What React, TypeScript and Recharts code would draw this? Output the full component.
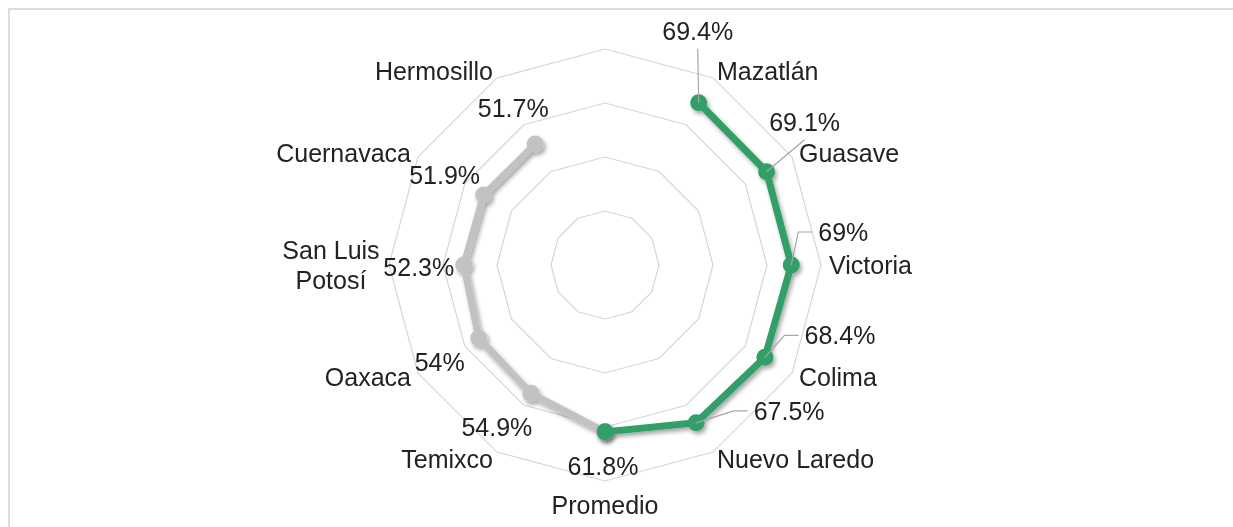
import React from 'react';
import { RadarChart, Radar, PolarGrid, PolarAngleAxis, PolarRadiusAxis } from 'recharts';

// ---------- data ----------
const categories = ['', 'Mazatlán', 'Guasave', 'Victoria', 'Colima', 'Nuevo Laredo', 'Promedio', 'Temixco', 'Oaxaca', 'San Luis Potosí', 'Cuernavaca', 'Hermosillo'];
const upperGroup: (number | null)[] = [null, 69.4, 69.1, 69.0, 68.4, 67.5, 61.8, null, null, null, null, null];
const lowerGroup: (number | null)[] = [null, null, null, null, null, null, 61.8, 54.9, 54.0, 52.3, 51.9, 51.7];
const radiusDomain: [number, number] = [0, 80];

const data = categories.map((name, i) => ({ name, upper: upperGroup[i], lower: lowerGroup[i] }));

// ---------- layout / style ----------
const FONT = '"Liberation Sans", Arial, Helvetica, sans-serif';
const FONT_SIZE = 25;
const TEXT = '#222222';
const GREEN = '#339e67';
const GRAY = '#c2c2c2';
const LEADER = '#a6a6a6';

// manual label placement (text centre relative to the data point), like the original chart
const LABEL_NUDGE: Record<string, [number, number]> = {
  'Mazatlán': [-1, -72],
  'Guasave': [38, -50],
  'Victoria': [52, -33],
  'Colima': [75, -22],
  'Nuevo Laredo': [93, -12],
  'Promedio': [-2, 34],
  'Temixco': [-34, 34],
  'Oaxaca': [-39, 24],
  'San Luis Potosí': [-45, 2],
  'Cuernavaca': [-39, -20],
  'Hermosillo': [-22, -36],
};

const CW: Record<string, number> = {
  '.': 0.278, '%': 0.889, ' ': 0.278, i: 0.222, l: 0.222, t: 0.278, r: 0.333, s: 0.5, f: 0.278, j: 0.222,
  m: 0.833, w: 0.722, M: 0.833, W: 0.944,
};
function textWidth(s: string, size = FONT_SIZE) {
  let w = 0;
  for (const ch of s) {
    if (CW[ch] !== undefined) w += CW[ch];
    else if (/[0-9]/.test(ch)) w += 0.556;
    else if (/[A-Z]/.test(ch)) w += 0.667;
    else w += 0.556;
  }
  return w * size;
}

const fmt = (v: number) => `${String(v)}%`;

function AngleTick(props: any) {
  const { x, y, payload, textAnchor } = props;
  const name: string = payload?.value ?? '';
  if (!name) return null;
  let lines = [name];
  if (name.length > 12) {
    const k = name.lastIndexOf(' ');
    lines = [name.slice(0, k), name.slice(k + 1)];
  }
  const lineH = 30;
  if (lines.length > 1) {
    const maxW = Math.max(...lines.map((l) => textWidth(l)));
    const cxText = textAnchor === 'end' ? x - maxW / 2 : textAnchor === 'start' ? x + maxW / 2 : x;
    return (
      <text fontFamily={FONT} fontSize={FONT_SIZE} fill={TEXT} textAnchor="middle">
        {lines.map((l, i) => (
          <tspan key={i} x={cxText} y={y + 9 + (i - (lines.length - 1) / 2) * lineH}>{l}</tspan>
        ))}
      </text>
    );
  }
  const baseY = textAnchor === 'middle' ? (y > 257 ? y + 25 : y - 7) : y + 9;
  return (
    <text x={x} y={baseY} fontFamily={FONT} fontSize={FONT_SIZE} fill={TEXT} textAnchor={textAnchor}>
      {name}
    </text>
  );
}

function makeShape(values: (number | null)[], color: string, fid: string, leaders: boolean, showLabel: (i: number) => boolean) {
  return (props: any) => {
    const raw: any[] = props.points || [];
    const pts = raw
      .map((p, i) => ({ ...p, i, v: values[i] }))
      .filter((p) => p.v !== null && p.v !== undefined && Number.isFinite(p.x) && Number.isFinite(p.y));
    const d = pts.map((p, k) => `${k ? 'L' : 'M'}${p.x},${p.y}`).join('');
    return (
      <g>
        <defs>
          <filter id={fid} x="-20%" y="-20%" width="140%" height="140%">
            <feDropShadow dx="2" dy="3" stdDeviation="2" floodColor="#000" floodOpacity="0.35" />
          </filter>
        </defs>
        <g filter={`url(#${fid})`}>
          <path d={d} fill="none" stroke={color} strokeWidth={7} strokeLinejoin="round" strokeLinecap="round" />
          {pts.map((p) => (
            <circle key={p.i} cx={p.x} cy={p.y} r={8.5} fill={color} />
          ))}
        </g>
        {pts.filter((p) => showLabel(p.i)).map((p) => {
          const name = p.payload?.name ?? p.name;
          const [dx, dy] = LABEL_NUDGE[name] || [0, -30];
          const lx = p.x + dx;
          const ly = p.y + dy;
          const label = fmt(p.v as number);
          const w = textWidth(label);
          const left = lx - w / 2;
          let leaderPath = '';
          if (leaders) {
            if (left - 10 > p.x + 15) {
              leaderPath = `M${left - 6},${ly}L${left - 20},${ly}L${p.x},${p.y}`;
            } else {
              leaderPath = `M${lx},${ly + 18}L${p.x},${p.y}`;
            }
          }
          return (
            <g key={`l${p.i}`}>
              {leaderPath && <path d={leaderPath} fill="none" stroke={LEADER} strokeWidth={1.2} />}
              <text x={lx} y={ly + 9} textAnchor="middle" fontFamily={FONT} fontSize={FONT_SIZE} fill={TEXT}>
                {label}
              </text>
            </g>
          );
        })}
      </g>
    );
  };
}

const lowerShape = makeShape(lowerGroup, GRAY, 'shadowLower', false, () => true);
const upperShape = makeShape(upperGroup, GREEN, 'shadowUpper', true, (i) => lowerGroup[i] === null);

export default function App() {
  return (
    <div style={{ position: 'relative', width: 1217, height: 511 }}>
      <div
        style={{
          position: 'fixed', left: 8, top: 8, right: -10, bottom: -10,
          borderTop: '2px solid #dcdcdc', borderLeft: '2px solid #dcdcdc',
        }}
      />
      <div style={{ position: 'absolute', left: 0, top: 0 }}>
        <RadarChart
          width={1217}
          height={511}
          cx={597}
          cy={257}
          outerRadius={216}
          data={data}
          startAngle={90}
          endAngle={-270}
        >
          <PolarGrid gridType="polygon" radialLines={false} stroke="#d6d6d6" strokeWidth={1.2} />
          <PolarRadiusAxis domain={radiusDomain} tickCount={5} tick={false} axisLine={false} angle={90} />
          <PolarAngleAxis dataKey="name" tick={(p: any) => <AngleTick {...p} />} tickLine={false} axisLine={false} />
          <Radar dataKey="lower" shape={lowerShape} dot={false} isAnimationActive={false} />
          <Radar dataKey="upper" shape={upperShape} dot={false} isAnimationActive={false} />
        </RadarChart>
      </div>
    </div>
  );
}
